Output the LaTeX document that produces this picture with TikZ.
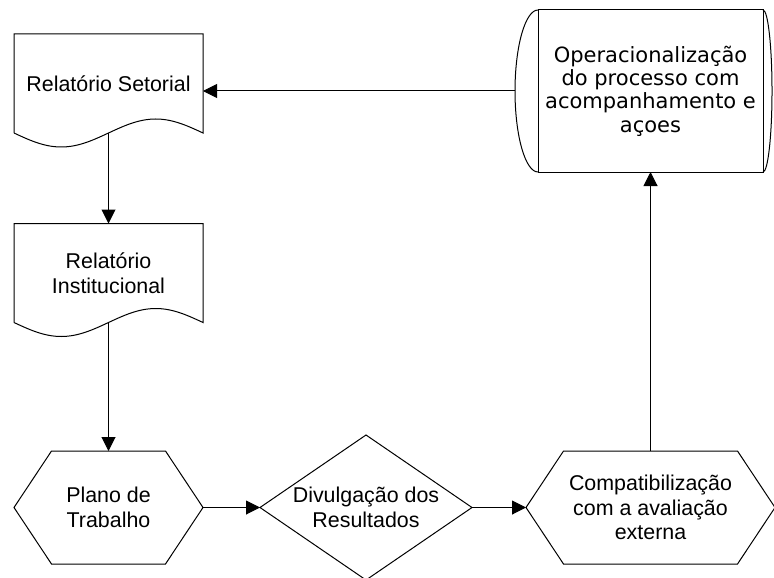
\documentclass[tikz,border=0pt]{standalone}
\usepackage{fontspec}
\setmainfont{Liberation Sans}
\newfontfamily\verdanafont{DejaVu Sans}
\usepackage{tikz}
\usetikzlibrary{arrows.meta,positioning}

\tikzstyle{docbox} = [rectangle, minimum width=94.5pt, minimum height=49.5pt,
    inner sep=0pt, outer sep=0pt, align=center, font=\fontsize{10.7}{12.4}\selectfont]
\tikzstyle{hexbox} = [rectangle, minimum width=94.5pt, minimum height=56.5pt,
    inner sep=0pt, outer sep=0pt, align=center, font=\fontsize{10.7}{12.4}\selectfont]
\tikzstyle{decision} = [rectangle, minimum width=106pt, minimum height=72.5pt,
    inner sep=0pt, outer sep=0pt, align=center, font=\fontsize{10.7}{12.4}\selectfont]
\tikzstyle{storebox} = [rectangle, minimum width=112.5pt, minimum height=81pt,
    inner sep=0pt, outer sep=0pt, align=center, font=\verdanafont\fontsize{10.5}{11.7}\selectfont]
\tikzstyle{line} = [draw, -{Triangle[length=7pt,width=7pt]}]

% outlines drawn round the named nodes
\newcommand{\docshape}[1]{\draw (#1.south west) -- (#1.north west) -- (#1.north east) -- (#1.south east)
    sin ([shift={(-47.25,-14)}]#1.south east) cos (#1.south)
    sin ([shift={(47.25,14)}]#1.south west) cos (#1.south west);}
\newcommand{\hexshape}[1]{\draw (#1.west) -- ([xshift=18.75pt]#1.north west) -- ([xshift=-18.75pt]#1.north east)
    -- (#1.east) -- ([xshift=-18.75pt]#1.south east) -- ([xshift=18.75pt]#1.south west) -- cycle;}
\newcommand{\diamondshape}[1]{\draw (#1.west) -- (#1.north) -- (#1.east) -- (#1.south) -- cycle;}
\newcommand{\storeshape}[1]{\draw (#1.north west) rectangle (#1.south east);
    \draw (#1.north west) arc[start angle=90, end angle=270, x radius=11.5pt, y radius=40.5pt];
    \draw (#1.north east) arc[start angle=90, end angle=-90, x radius=4.5pt, y radius=40.5pt];}

\begin{document}
\begin{tikzpicture}[x=0.5pt, y=-0.5pt, line width=0.5pt]
    \useasboundingbox (0,0) rectangle (774,577);
    % Place nodes
    \node [docbox] (setorial) at (108.5,83.5) {Relatório Setorial};
    \node [docbox, below of=setorial, node distance=94.75pt] (institucional) {Relatório\\Institucional};
    \node [hexbox, below of=institucional, node distance=117.25pt] (plano) {Plano de\\Trabalho};
    \node [decision, right of=plano, node distance=128.75pt] (divulgacao) {Divulgação dos\\Resultados};
    \node [hexbox, right of=divulgacao, node distance=142.25pt, minimum width=124.5pt] (compat) {Compatibilização\\com a avaliação\\externa};
    \node [storebox, above of=compat, node distance=208.25pt] (oper) {Operacionalização\\do processo com\\acompanhamento e\\açoes};
    % Draw outlines
    \docshape{setorial}
    \docshape{institucional}
    \hexshape{plano}
    \diamondshape{divulgacao}
    \hexshape{compat}
    \storeshape{oper}
    % Draw edges
    \path [line] (setorial.south) -- (institucional.north);
    \path [line] (institucional.south) -- (plano.north);
    \path [line] (plano.east) -- (divulgacao.west);
    \path [line] (divulgacao.east) -- (compat.west);
    \path [line] (compat.north) -- (oper.south);
    \path [line] ([xshift=-11.5pt]oper.west) -- (oper.west -| setorial.east);
\end{tikzpicture}
\end{document}
